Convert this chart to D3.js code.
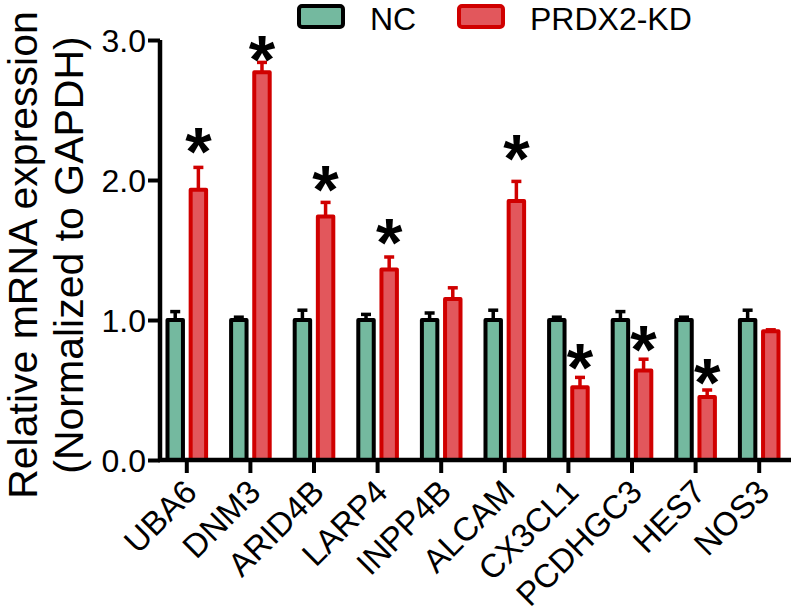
<!DOCTYPE html>
<html>
<head>
<meta charset="utf-8">
<script src="https://cdn.jsdelivr.net/npm/d3@7"></script>
<style>
  html, body { margin: 0; padding: 0; background: #fff; }
  svg { display: block; }
  text { font-family: "Liberation Sans", Arial, Helvetica, sans-serif; fill: #000; }
</style>
</head>
<body>
<svg id="chart" width="794" height="612"></svg>
<script>
// ---- data ----
const categories = ["UBA6", "DNM3", "ARID4B", "LARP4", "INPP4B", "ALCAM", "CX3CL1", "PCDHGC3", "HES7", "NOS3"];
const seriesNames = ["NC", "PRDX2-KD"];
const ncMean = [1.00, 1.00, 1.00, 1.00, 1.00, 1.00, 1.00, 1.00, 1.00, 1.00];
const ncErr  = [0.06, 0.02, 0.07, 0.04, 0.05, 0.07, 0.02, 0.06, 0.02, 0.07];
const kdMean = [1.93, 2.77, 1.74, 1.36, 1.15, 1.85, 0.52, 0.64, 0.45, 0.92];
const kdErr  = [0.16, 0.07, 0.10, 0.09, 0.08, 0.14, 0.07, 0.08, 0.05, 0.01];
const significant = [true, true, true, true, false, true, true, true, true, false];
const starLevel = [2.31, 2.97, 2.04, 1.66, null, 2.26, 0.77, 0.90, 0.66, null];
const yTickValues = [0, 1, 2, 3];
const yTickLabels = ["0.0", "1.0", "2.0", "3.0"];
const yTitle = ["Relative mRNA expression", "(Normalized to GAPDH)"];

// ---- styles ----
const fills = ["#74b99f", "#e2575c"];
const strokes = ["#000000", "#d00000"];

const svg = d3.select("#chart");

const y = d3.scaleLinear().domain([0, 3]).range([460, 40]);
const x0 = d3.scaleBand().domain(categories).range([155, 791]).paddingInner(0.33).paddingOuter(0.165);
const x1 = d3.scaleBand().domain(seriesNames).range([0, x0.bandwidth()]).paddingInner(0.16);

const rows = categories.map((c, i) => ({
  cat: c, i,
  vals: [
    { s: 0, name: seriesNames[0], mean: ncMean[i], err: ncErr[i] },
    { s: 1, name: seriesNames[1], mean: kdMean[i], err: kdErr[i] }
  ]
}));

const sw = 4;
const groups = svg.append("g").selectAll("g").data(rows).join("g")
  .attr("transform", d => `translate(${x0(d.cat)},0)`);

// error bars (upward)
groups.selectAll("g.err").data(d => d.vals).join("g").attr("class", "err").each(function(v) {
  const g = d3.select(this);
  const cx = x1(v.name) + x1.bandwidth() / 2;
  g.append("line").attr("x1", cx).attr("x2", cx)
    .attr("y1", y(v.mean)).attr("y2", y(v.mean + v.err))
    .attr("stroke", strokes[v.s]).attr("stroke-width", 3.5);
  g.append("line").attr("x1", cx - 5).attr("x2", cx + 5)
    .attr("y1", y(v.mean + v.err)).attr("y2", y(v.mean + v.err))
    .attr("stroke", strokes[v.s]).attr("stroke-width", 3.5);
});

// bars
groups.selectAll("rect").data(d => d.vals).join("rect")
  .attr("x", v => x1(v.name) + sw / 2)
  .attr("width", x1.bandwidth() - sw)
  .attr("y", v => y(v.mean))
  .attr("height", v => y(0) - y(v.mean))
  .attr("fill", v => fills[v.s])
  .attr("stroke", v => strokes[v.s])
  .attr("stroke-width", sw)
  .attr("stroke-linejoin", "round");

// significance stars
const starSize = 68;
groups.filter(d => significant[d.i]).append("text")
  .attr("x", x1(seriesNames[1]) + x1.bandwidth() / 2)
  .attr("y", d => y(starLevel[d.i]) + starSize * 0.57)
  .attr("text-anchor", "middle")
  .attr("font-weight", "bold")
  .attr("font-size", starSize)
  .text("*");

// y axis
const yAxis = d3.axisLeft(y).tickValues(yTickValues)
  .tickFormat((d, i) => yTickLabels[i]).tickSize(12).tickSizeOuter(0).tickPadding(2);
const gy = svg.append("g").attr("transform", "translate(160,0)").call(yAxis);
gy.select(".domain").attr("stroke", "#000").attr("stroke-width", 4.5).attr("d", `M0,${y(3)}V${y(0) + 2}`);
gy.selectAll(".tick line").attr("stroke", "#000").attr("stroke-width", 4);
gy.selectAll(".tick text").attr("font-size", 32).attr("font-family", "'Liberation Sans', Arial, sans-serif").attr("dy", "0.36em");

// x axis
const xAxis = d3.axisBottom(x0).tickSize(13).tickSizeOuter(0).tickFormat("");
const gx = svg.append("g").attr("transform", "translate(0,460)").call(xAxis);
gx.select(".domain").attr("stroke", "#000").attr("stroke-width", 4.5).attr("d", "M158,0H791");
gx.selectAll(".tick line").attr("stroke", "#000").attr("stroke-width", 4);

// x labels rotated
svg.append("g").selectAll("text").data(categories).join("text")
  .attr("transform", d => `translate(${x0(d) + x0.bandwidth() / 2 + 12},${494}) rotate(-45)`)
  .attr("text-anchor", "end")
  .attr("font-size", 33)
  .text(d => d);

// y title
const ty = svg.append("text").attr("font-size", 41).attr("text-anchor", "middle")
  .attr("transform", "translate(37,255) rotate(-90)");
ty.append("tspan").attr("x", 0).attr("y", 0).text(yTitle[0]);
ty.append("tspan").attr("x", 0).attr("y", 46).text(yTitle[1]);

// legend
const legendX = [297, 457];
const legendTextX = [370, 530];
const lg = svg.append("g").selectAll("g").data(seriesNames).join("g");
lg.append("rect")
  .attr("x", (d, i) => legendX[i] + 2).attr("y", 6)
  .attr("width", 44).attr("height", 21).attr("rx", 3)
  .attr("fill", (d, i) => fills[i]).attr("stroke", (d, i) => strokes[i]).attr("stroke-width", 4);
lg.append("text")
  .attr("x", (d, i) => legendTextX[i]).attr("y", 29.5)
  .attr("font-size", 32)
  .text(d => d);
</script>
</body>
</html>
